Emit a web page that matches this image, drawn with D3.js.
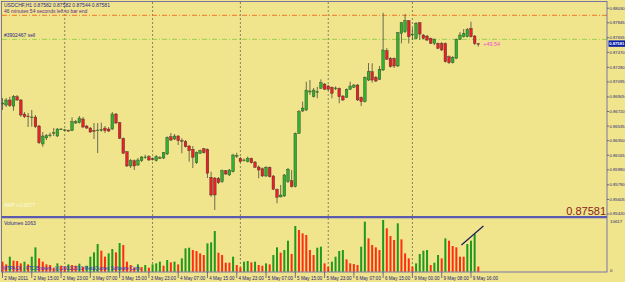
<!DOCTYPE html>
<html>
<head>
<meta charset="utf-8">
<script src="https://cdn.jsdelivr.net/npm/d3@7"></script>
<style>
body { margin: 0; background: #f0e48c; }
svg { display: block; font-family: "Liberation Sans", Arial, sans-serif; }
</style>
</head>
<body>
<div id="chart"></div>
<script>
// USDCHF H1 bars, 2 May 07:00 .. 9 May 18:00
var open = [
0.86815, 0.86802, 0.86866, 0.86789, 0.86907, 0.86866, 0.86688, 0.86663, 0.86644, 0.86650,
0.86536, 0.86308, 0.86384, 0.86418, 0.86447, 0.86409, 0.86494, 0.86485, 0.86481, 0.86476,
0.86574, 0.86578, 0.86625, 0.86536, 0.86510, 0.86479, 0.86481, 0.86485, 0.86510, 0.86498,
0.86498, 0.86688, 0.86578, 0.86380, 0.86210, 0.86029, 0.86096, 0.86041, 0.86096, 0.86139,
0.86147, 0.86120, 0.86096, 0.86130, 0.86130, 0.86181, 0.86400, 0.86371, 0.86409, 0.86352,
0.86337, 0.86282, 0.86240, 0.86070, 0.86190, 0.86248, 0.86240, 0.85885, 0.85876, 0.85873,
0.85830, 0.85969, 0.85915, 0.85956, 0.86155, 0.86126, 0.86101, 0.86083, 0.86126, 0.86079,
0.86016, 0.85994, 0.85902, 0.86012, 0.85902, 0.85733, 0.85636, 0.85648, 0.85830, 0.85842,
0.85766, 0.86443, 0.86726, 0.86739, 0.86967, 0.86907, 0.86967, 0.87014, 0.87068, 0.87043,
0.87027, 0.87014, 0.87014, 0.86916, 0.86900, 0.87001, 0.87027, 0.87056, 0.86900, 0.86844,
0.87119, 0.87224, 0.87153, 0.87128, 0.87246, 0.87491, 0.87394, 0.87394, 0.87297, 0.87711,
0.87732, 0.87871, 0.87690, 0.87648, 0.87846, 0.87690, 0.87677, 0.87648, 0.87584, 0.87584,
0.87584, 0.87584, 0.87415, 0.87338, 0.87394, 0.87635, 0.87668, 0.87668, 0.87775, 0.87677,
0.87582];
var high = [
0.86891, 0.86891, 0.86907, 0.86929, 0.86929, 0.86878, 0.86713, 0.86701, 0.86739, 0.86675,
0.86549, 0.86460, 0.86434, 0.86451, 0.86510, 0.86510, 0.86510, 0.86498, 0.86491, 0.86646,
0.86612, 0.86663, 0.86650, 0.86549, 0.86523, 0.86574, 0.86574, 0.86578, 0.86536, 0.86523,
0.86713, 0.86701, 0.86587, 0.86390, 0.86219, 0.86117, 0.86111, 0.86130, 0.86155, 0.86172,
0.86168, 0.86136, 0.86168, 0.86155, 0.86206, 0.86403, 0.86447, 0.86434, 0.86422, 0.86380,
0.86358, 0.86295, 0.86282, 0.86213, 0.86238, 0.86257, 0.86251, 0.85956, 0.85889, 0.85889,
0.85984, 0.85978, 0.85991, 0.86185, 0.86197, 0.86143, 0.86124, 0.86149, 0.86136, 0.86092,
0.86035, 0.86010, 0.86029, 0.86022, 0.85915, 0.85743, 0.85788, 0.85927, 0.86003, 0.85978,
0.86453, 0.86739, 0.86844, 0.87098, 0.87119, 0.87018, 0.87034, 0.87128, 0.87081, 0.87056,
0.87037, 0.87037, 0.87024, 0.86929, 0.87011, 0.87098, 0.87068, 0.87068, 0.86910, 0.87164,
0.87335, 0.87331, 0.87170, 0.87297, 0.87972, 0.87525, 0.87411, 0.87404, 0.87728, 0.87855,
0.87956, 0.87880, 0.87778, 0.87855, 0.87855, 0.87702, 0.87690, 0.87658, 0.87645, 0.87595,
0.87601, 0.87595, 0.87430, 0.87423, 0.87645, 0.87728, 0.87766, 0.87778, 0.87858, 0.87690,
0.87582];
var low = [
0.86739, 0.86777, 0.86777, 0.86730, 0.86853, 0.86654, 0.86637, 0.86523, 0.86527, 0.86510,
0.86308, 0.86273, 0.86358, 0.86393, 0.86409, 0.86396, 0.86485, 0.86472, 0.86466, 0.86472,
0.86561, 0.86568, 0.86510, 0.86498, 0.86447, 0.86371, 0.86193, 0.86464, 0.86447, 0.86460,
0.86485, 0.86561, 0.86371, 0.86181, 0.86016, 0.86003, 0.85978, 0.86029, 0.86079, 0.86121,
0.86092, 0.86098, 0.86086, 0.86117, 0.86117, 0.86168, 0.86346, 0.86358, 0.86295, 0.86190,
0.86263, 0.86083, 0.86003, 0.86054, 0.86181, 0.86187, 0.85876, 0.85639, 0.85471, 0.85800,
0.85813, 0.85915, 0.85902, 0.85946, 0.86130, 0.86073, 0.86086, 0.86073, 0.86060, 0.86003,
0.85873, 0.85889, 0.85889, 0.85883, 0.85724, 0.85556, 0.85632, 0.85636, 0.85813, 0.85756,
0.85756, 0.86434, 0.86713, 0.86726, 0.86929, 0.86897, 0.86887, 0.87005, 0.86992, 0.86986,
0.86887, 0.86992, 0.86824, 0.86853, 0.86891, 0.86992, 0.87018, 0.86853, 0.86789, 0.86834,
0.87106, 0.87085, 0.87094, 0.87119, 0.87233, 0.87373, 0.87278, 0.87271, 0.87284, 0.87584,
0.87715, 0.87584, 0.87626, 0.87639, 0.87626, 0.87639, 0.87614, 0.87576, 0.87563, 0.87512,
0.87487, 0.87341, 0.87322, 0.87328, 0.87385, 0.87626, 0.87658, 0.87658, 0.87658, 0.87563,
0.87544];
var close = [
0.86827, 0.86866, 0.86795, 0.86907, 0.86866, 0.86675, 0.86654, 0.86656, 0.86650, 0.86527,
0.86324, 0.86409, 0.86413, 0.86422, 0.86453, 0.86498, 0.86498, 0.86487, 0.86476, 0.86590,
0.86590, 0.86637, 0.86523, 0.86510, 0.86460, 0.86476, 0.86485, 0.86491, 0.86476, 0.86472,
0.86688, 0.86574, 0.86380, 0.86190, 0.86029, 0.86096, 0.86029, 0.86105, 0.86143, 0.86143,
0.86105, 0.86117, 0.86147, 0.86134, 0.86197, 0.86393, 0.86358, 0.86409, 0.86349, 0.86349,
0.86273, 0.86223, 0.86139, 0.86197, 0.86223, 0.86197, 0.85936, 0.85661, 0.85661, 0.85817,
0.85969, 0.85927, 0.85978, 0.86168, 0.86162, 0.86083, 0.86105, 0.86126, 0.86070, 0.86012,
0.85978, 0.85902, 0.86012, 0.85893, 0.85733, 0.85632, 0.85661, 0.85915, 0.85987, 0.85766,
0.86443, 0.86717, 0.86764, 0.86992, 0.86980, 0.86992, 0.86971, 0.87085, 0.87001, 0.87001,
0.86950, 0.87018, 0.86907, 0.86866, 0.87001, 0.87043, 0.87056, 0.86866, 0.86844, 0.87153,
0.87224, 0.87119, 0.87106, 0.87255, 0.87500, 0.87382, 0.87288, 0.87297, 0.87719, 0.87846,
0.87871, 0.87668, 0.87702, 0.87838, 0.87702, 0.87648, 0.87626, 0.87584, 0.87635, 0.87521,
0.87500, 0.87351, 0.87338, 0.87407, 0.87635, 0.87690, 0.87711, 0.87762, 0.87668, 0.87582,
0.87581];
var volume = [
2055, 1507, 3083, 2261, 2192, 1713, 2055, 1507, 3083, 5001,
2740, 2055, 1507, 1370, 822, 1713, 1233, 1028, 1507, 1370,
1233, 1644, 959, 1233, 3083, 3973, 5686, 4316, 3083, 3768,
4658, 3973, 5891, 5480, 2055, 1370, 822, 1507, 959, 1370,
822, 1507, 1713, 2055, 1233, 2398, 1918, 2055, 1507, 2740,
4795, 4932, 4453, 4247, 3768, 3425, 5823, 6028, 8357, 3905,
3425, 1850, 1850, 3083, 1370, 891, 2055, 2192, 1918, 2055,
1370, 1233, 1713, 1507, 3425, 5001, 3905, 4453, 6371, 3631,
9385, 8563, 7878, 7535, 4453, 3425, 4932, 5138, 1713, 1028,
2055, 3083, 4247, 4453, 2535, 1713, 1576, 1370, 5138, 10275,
6850, 5480, 5001, 4453, 10617, 8905, 7330, 6508, 9933, 6645,
3768, 2740, 1028, 1713, 3631, 4316, 4453, 1370, 1850, 3425,
2740, 6850, 6371, 5275, 5001, 3083, 3083, 5686, 6371, 7741,
1063];

// time axis labels, one every 8 bars
var timeLabels = ["2 May 2011", "2 May 15:00", "2 May 23:00", "3 May 07:00", "3 May 15:00",
  "3 May 23:00", "4 May 07:00", "4 May 15:00", "4 May 23:00", "5 May 07:00", "5 May 15:00",
  "5 May 23:00", "6 May 07:00", "6 May 15:00", "9 May 00:00", "9 May 08:00", "9 May 16:00"];
var labelStep = 8;
// bars where a new day starts
var daySeparators = [17, 41, 65, 89, 112];
var priceTicks = [0.88030, 0.87845, 0.87655, 0.87470, 0.87280, 0.87095, 0.86905, 0.86720,
  0.86535, 0.86350, 0.86165, 0.85980, 0.85790, 0.85605, 0.85420];
var volumeTicks = [10617, 0];
var lastPrice = 0.87581;
var stopLevel = 0.87940;   // orange dash-dot
var orderLevel = 0.87635;  // green dash-dot, order #3902467
var volTrend = [{i: 125.4, v: 5480}, {i: 131.4, v: 9390}];

var W = 625, H = 282;
var plotRight = 607;

var svg = d3.select("#chart").append("svg")
  .attr("width", W)
  .attr("height", H);

svg.append("rect").attr("width", W).attr("height", H).attr("fill", "#f0e48c");

var x = d3.scaleLinear().domain([0, 130]).range([2.5, 478.3]);
var y = d3.scaleLinear().domain([0.85420, 0.88134]).range([214, 0]);
var yv = d3.scaleLinear().domain([0, 10617]).range([271.7, 220]);

var idx = d3.range(open.length);

// day separators, dotted through both panels
svg.selectAll("line.day")
  .data(daySeparators)
  .enter()
  .append("line")
  .attr("class", "day")
  .attr("x1", function (d) { return x(d); })
  .attr("x2", function (d) { return x(d); })
  .attr("y1", 2)
  .attr("y2", 272)
  .attr("stroke", "#6a6a55")
  .attr("stroke-width", 0.8)
  .attr("stroke-dasharray", "2,2");

// horizontal levels
function level(p, color) {
  svg.append("line")
    .attr("x1", 2).attr("x2", plotRight)
    .attr("y1", y(p)).attr("y2", y(p))
    .attr("stroke", color)
    .attr("stroke-width", 0.9)
    .attr("stroke-dasharray", "5,2,1,2");
}
level(stopLevel, "#f26a1b");
level(orderLevel, "#8fcf4a");

// candles
var candles = svg.append("g");
candles.selectAll("line.wick")
  .data(idx)
  .enter()
  .append("line")
  .attr("class", "wick")
  .attr("x1", function (i) { return x(i); })
  .attr("x2", function (i) { return x(i); })
  .attr("y1", function (i) { return y(high[i]); })
  .attr("y2", function (i) { return y(low[i]); })
  .attr("stroke", "#4d4d40")
  .attr("stroke-width", 0.8);

candles.selectAll("rect.body")
  .data(idx)
  .enter()
  .append("rect")
  .attr("class", "body")
  .attr("x", function (i) { return x(i) - 1.35; })
  .attr("width", 2.7)
  .attr("y", function (i) { return y(Math.max(open[i], close[i])); })
  .attr("height", function (i) { return Math.max(0.8, Math.abs(y(open[i]) - y(close[i]))); })
  .attr("fill", function (i) {
    if (close[i] > open[i]) return "#2fb12f";
    if (close[i] < open[i]) return "#e3222c";
    return "#333";
  })
  .attr("stroke", "#2b2b22")
  .attr("stroke-width", 0.35);

// volumes: green when bigger than the bar before, red otherwise
svg.selectAll("rect.vol")
  .data(idx)
  .enter()
  .append("rect")
  .attr("class", "vol")
  .attr("x", function (i) { return x(i) - 1; })
  .attr("width", 2)
  .attr("y", function (i) { return yv(volume[i]); })
  .attr("height", function (i) { return yv(0) - yv(volume[i]); })
  .attr("fill", function (i) {
    return (i > 0 && volume[i] > volume[i - 1]) ? "#1f9a1f" : "#ff2e12";
  });

svg.append("line")
  .attr("x1", x(volTrend[0].i)).attr("y1", yv(volTrend[0].v))
  .attr("x2", x(volTrend[1].i)).attr("y2", yv(volTrend[1].v))
  .attr("stroke", "#1c1c5a")
  .attr("stroke-width", 1.2);

// frames
var frameColor = "#5a5ab0";
svg.append("rect")
  .attr("x", 1.5).attr("y", 1.5)
  .attr("width", plotRight - 1.5).attr("height", 272 - 1.5)
  .attr("fill", "none")
  .attr("stroke", frameColor)
  .attr("stroke-width", 0.8);
svg.append("line")
  .attr("x1", 1.5).attr("x2", plotRight)
  .attr("y1", 217.2).attr("y2", 217.2)
  .attr("stroke", frameColor)
  .attr("stroke-width", 2.2);

// right price axis
var axisColor = "#23237a";
var pAxis = svg.append("g");
pAxis.selectAll("line")
  .data(priceTicks)
  .enter()
  .append("line")
  .attr("x1", plotRight).attr("x2", plotRight + 2)
  .attr("y1", function (d) { return y(d); })
  .attr("y2", function (d) { return y(d); })
  .attr("stroke", axisColor)
  .attr("stroke-width", 0.6);
pAxis.selectAll("text")
  .data(priceTicks)
  .enter()
  .append("text")
  .attr("x", plotRight + 2.5)
  .attr("y", function (d) { return y(d); })
  .attr("dy", "0.35em")
  .attr("font-size", "4.2px")
  .attr("fill", axisColor)
  .text(function (d) { return d.toFixed(5); });

// current price box
svg.append("rect")
  .attr("x", plotRight + 1.5).attr("y", y(lastPrice) - 3.2)
  .attr("width", W - plotRight - 1.5).attr("height", 6.4)
  .attr("fill", "#0a1ea8");
svg.append("text")
  .attr("x", plotRight + 2.2).attr("y", y(lastPrice))
  .attr("dy", "0.35em")
  .attr("font-size", "4.2px")
  .attr("font-weight", "bold")
  .attr("fill", "#ffffff")
  .text(lastPrice.toFixed(5));

// volume axis
svg.selectAll("text.vtick")
  .data(volumeTicks)
  .enter()
  .append("text")
  .attr("class", "vtick")
  .attr("x", plotRight + 3)
  .attr("y", function (d) { return yv(d); })
  .attr("dy", function (d) { return d === 0 ? "0" : "0.6em"; })
  .attr("font-size", "4.4px")
  .attr("fill", axisColor)
  .text(function (d) { return d; });

// time axis
var tAxis = svg.append("g");
tAxis.selectAll("line")
  .data(timeLabels)
  .enter()
  .append("line")
  .attr("x1", function (d, k) { return x(k * labelStep); })
  .attr("x2", function (d, k) { return x(k * labelStep); })
  .attr("y1", 272).attr("y2", 278)
  .attr("stroke", axisColor)
  .attr("stroke-width", 0.6);
tAxis.selectAll("text")
  .data(timeLabels)
  .enter()
  .append("text")
  .attr("x", function (d, k) { return x(k * labelStep) + 1.8; })
  .attr("y", 279.5)
  .attr("font-size", "4.6px")
  .attr("fill", axisColor)
  .text(function (d) { return d; });

// captions
function caption(t, cx, cy, size, color, anchor) {
  return svg.append("text")
    .attr("x", cx).attr("y", cy)
    .attr("font-size", size)
    .attr("fill", color)
    .attr("text-anchor", anchor || "start")
    .text(t);
}
caption("USDCHF,H1  " + open[130].toFixed(5) + " " + high[130].toFixed(5) + " " +
  low[130].toFixed(5) + " " + close[130].toFixed(5), 4, 7, "5px", "#1f1f8a");
caption("46 minutes 54 seconds left to bar end", 4, 12.5, "5px", "#5a2a8a");
caption("#3902467 sell", 4, y(orderLevel) - 2, "5px", "#1f1f8a");
caption("+49.54", x(130) + 5, y(lastPrice) + 2, "5.4px", "#f04ad0");
caption("AMP v.0.0077", 4, 207, "5px", "#fffbe0");
caption(lastPrice.toFixed(5), plotRight - 1, 214.5, "11px", "#8a1c1c", "end");
caption("Volumes " + volume[130], 4, 224.5, "5px", "#1f1f8a");
caption("MTPACK - FTC Brokers, (c) 2001-2010 MetaQuotes Software Corp.", 3, 269.5, "4.6px", "#2b2bd0");
</script>
</body>
</html>
